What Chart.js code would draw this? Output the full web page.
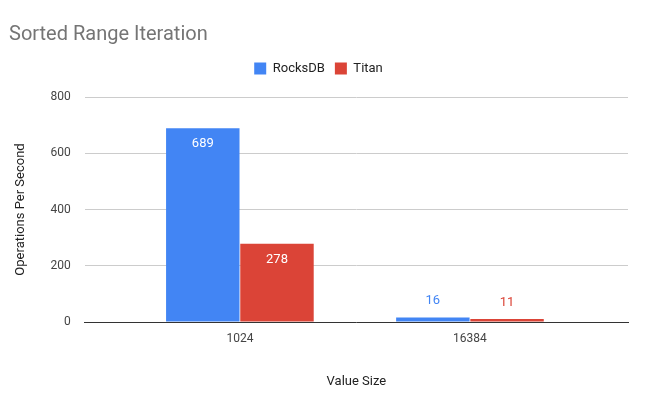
<!DOCTYPE html>
<html><head><meta charset="utf-8">
<script src="https://cdn.jsdelivr.net/npm/chart.js@4/dist/chart.umd.min.js"></script>
<style>html,body{margin:0;padding:0;background:#fff}#w{width:646px;height:400px;position:relative}</style>
</head><body><div id="w"><canvas id="c"></canvas></div>
<script>
const categories = ["1024", "16384"];
const rocksdb = [689, 16];
const titan = [278, 11];
const yTicks = [0, 200, 400, 600, 800];

const toPoints = arr => arr.map((v, i) => ({ x: i, y: v }));

const labelPlugin = {
  id: 'labels',
  afterDatasetsDraw(chart) {
    const ctx = chart.ctx;
    ctx.save();
    ctx.font = '13px Roboto';
    ctx.textAlign = 'center';
    chart.data.datasets.forEach((ds, i) => {
      chart.getDatasetMeta(i).data.forEach((bar, j) => {
        const v = ds.data[j].y;
        const h = bar.base - bar.y;
        if (h > 30) {
          ctx.fillStyle = '#fff';
          ctx.textBaseline = 'top';
          ctx.fillText(v, bar.x, bar.y + 9);
        } else {
          ctx.fillStyle = ds.backgroundColor;
          ctx.textBaseline = 'bottom';
          ctx.fillText(v, bar.x, bar.y - 10);
        }
      });
    });
    ctx.restore();
  }
};

const legendSpace = {
  id: 'legendSpace',
  beforeInit(chart) {
    const fit = chart.legend.fit;
    chart.legend.fit = function () { fit.bind(this)(); this.height += 12; };
  }
};

new Chart(document.getElementById('c'), {
  type: 'bar',
  data: {
    datasets: [
      { label: 'RocksDB', data: toPoints(rocksdb), backgroundColor: '#4285F4' },
      { label: 'Titan', data: toPoints(titan), backgroundColor: '#DB4437' }
    ]
  },
  options: {
    responsive: true, maintainAspectRatio: false, animation: false,
    devicePixelRatio: 1,
    layout: { padding: { left: 9, right: 18, top: 8, bottom: 6 } },
    datasets: { bar: { categoryPercentage: 0.645, barPercentage: 0.99 } },
    plugins: {
      title: { display: true, text: 'Sorted Range Iteration', align: 'start', color: '#757575',
        font: { family: 'Roboto', size: 20, weight: 'normal' }, padding: { top: 15, bottom: 5 } },
      legend: { labels: { boxWidth: 12, boxHeight: 12, color: '#222', font: { family: 'Roboto', size: 13 } } },
      tooltip: { enabled: false }
    },
    scales: {
      x: {
        type: 'linear', offset: false,
        min: -0.674, max: 1.687,
        afterBuildTicks: s => { s.ticks = categories.map((c, i) => ({ value: i })); },
        grid: { display: false, drawTicks: false },
        border: { color: '#333' },
        ticks: { color: '#444', font: { family: 'Roboto', size: 12 }, padding: 10,
          callback: v => categories[v] },
        title: { display: true, text: 'Value Size', color: '#222', font: { family: 'Roboto', size: 13 }, padding: { top: 18 } }
      },
      y: {
        min: 0, max: 800,
        afterBuildTicks: s => { s.ticks = yTicks.map(v => ({ value: v })); },
        grid: { color: '#ccc', drawTicks: false },
        border: { display: false },
        ticks: { color: '#444', font: { family: 'Roboto', size: 12 }, padding: 14 },
        title: { display: true, text: 'Operations Per Second', color: '#222', font: { family: 'Roboto', size: 13 }, padding: { bottom: 8 } }
      }
    }
  },
  plugins: [labelPlugin, legendSpace]
});
</script></body></html>
